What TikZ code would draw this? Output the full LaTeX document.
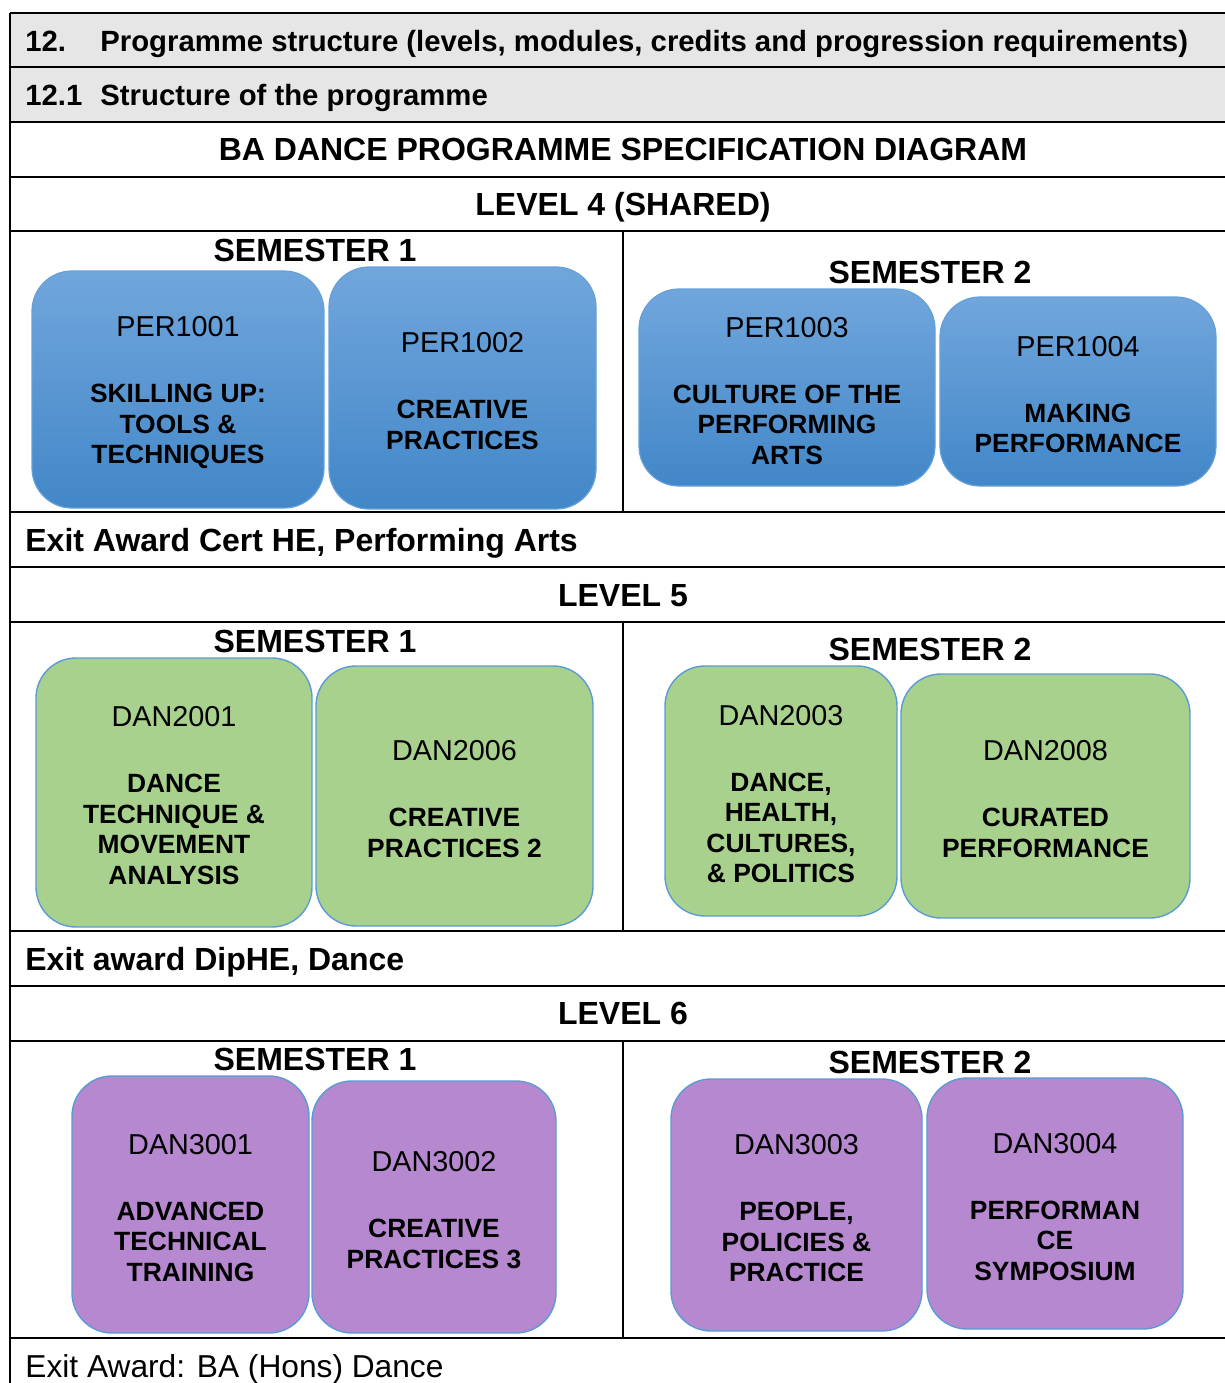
\documentclass[tikz,border=0pt]{standalone}
\usepackage{fontspec}
\setmainfont{Liberation Sans}
\definecolor{rowgrey}{RGB}{230,230,230}
\definecolor{pertop}{RGB}{113,166,220}
\definecolor{perbot}{RGB}{66,135,200}
\definecolor{perline}{RGB}{100,160,218}
\definecolor{dangreen}{RGB}{169,209,142}
\definecolor{danpurple}{RGB}{181,136,207}
\definecolor{danline}{RGB}{91,155,213}
\newcommand{\modcode}[1]{{\fontsize{14.4}{15.25}\selectfont\mdseries\rule{0pt}{13.3pt}#1}}

\begin{document}
\begin{tikzpicture}[x=0.5pt,y=-0.5pt,
                grid line/.style = {line width=1pt, color=black},
                head/.style = {anchor=base, inner sep=0pt, font=\fontsize{16}{19}\selectfont\bfseries},
                rowtext/.style = {anchor=base west, inner sep=0pt, font=\fontsize{14.65}{17}\selectfont\bfseries},
                exit/.style = {anchor=base west, inner sep=0pt, font=\fontsize{16}{19}\selectfont\bfseries},
                module/.style 2 args = {rounded corners=20pt, inner sep=0pt, align=center,
                                 minimum width=#1, minimum height=#2,
                                 font=\fontsize{13.2}{15.25}\selectfont\bfseries},
                per/.style 2 args = {module={#1}{#2}, top color=pertop, bottom color=perbot, draw=perline, line width=0.6pt},
                lvlfive/.style 2 args = {module={#1}{#2}, fill=dangreen, draw=danline, line width=0.7pt},
                lvlsix/.style 2 args = {module={#1}{#2}, fill=danpurple, draw=danline, line width=0.7pt}]
    \useasboundingbox (0,0) rectangle (1225,1383);
    % grey header rows
    \fill[rowgrey] (10,13) rectangle (1225,122);
    \node[rowtext] (n12) at (25,51) {12.};
    \node[rowtext] (progstruct) at (100,51) {Programme structure (levels, modules, credits and progression requirements)};
    \node[rowtext] (n121) at (25,105) {12.1};
    \node[rowtext] (structprog) at (100,105) {Structure of the programme};
    \node[head] (title) at (623,160.5) {BA DANCE PROGRAMME SPECIFICATION DIAGRAM};
    % level 4
    \node[head] (lvl4) at (623,215.5) {LEVEL 4 (SHARED)};
    \node[head] (l4s1) at (315,261.5) {SEMESTER 1};
    \node[head] (l4s2) at (930,283.5) {SEMESTER 2};
    \node[per={146pt}{118.5pt}] (per1001) at (178,389.5) {\modcode{PER1001}\\[17.75pt]SKILLING UP:\\TOOLS \&\\TECHNIQUES};
    \node[per={133.5pt}{121pt}] (per1002) at (462.5,388) {\modcode{PER1002}\\[17.75pt]CREATIVE\\PRACTICES};
    \node[per={148pt}{98.5pt}] (per1003) at (787,387.5) {\modcode{PER1003}\\[17.75pt]CULTURE OF THE\\PERFORMING\\ARTS};
    \node[per={138pt}{94.5pt}] (per1004) at (1078,391.5) {\modcode{PER1004}\\[17.75pt]MAKING\\PERFORMANCE};
    \node[exit] (exit4) at (25,551.5) {Exit Award Cert HE, Performing Arts};
    % level 5
    \node[head] (lvl5) at (623,606.5) {LEVEL 5};
    \node[head] (l5s1) at (315,652.5) {SEMESTER 1};
    \node[head] (l5s2) at (930,660.5) {SEMESTER 2};
    \node[lvlfive={138pt}{134.5pt}] (dan2001) at (174,792.5) {\modcode{DAN2001}\\[17.75pt]DANCE\\TECHNIQUE \&\\MOVEMENT\\ANALYSIS};
    \node[lvlfive={138.5pt}{130pt}] (dan2006) at (454.5,796) {\modcode{DAN2006}\\[17.75pt]CREATIVE\\PRACTICES 2};
    \node[lvlfive={116pt}{125pt}] (dan2003) at (781,791) {\modcode{DAN2003}\\[17.75pt]DANCE,\\HEALTH,\\CULTURES,\\\& POLITICS};
    \node[lvlfive={144.5pt}{122pt}] (dan2008) at (1045.5,796) {\modcode{DAN2008}\\[17.75pt]CURATED\\PERFORMANCE};
    \node[exit] (exit5) at (25,970.5) {Exit award DipHE, Dance};
    % level 6
    \node[head] (lvl6) at (623,1024.5) {LEVEL 6};
    \node[head] (l6s1) at (315,1070.5) {SEMESTER 1};
    \node[head] (l6s2) at (930,1073.5) {SEMESTER 2};
    \node[lvlsix={118.5pt}{128.5pt}] (dan3001) at (190.5,1204.5) {\modcode{DAN3001}\\[17.75pt]ADVANCED\\TECHNICAL\\TRAINING};
    \node[lvlsix={122pt}{126pt}] (dan3002) at (434,1207) {\modcode{DAN3002}\\[17.75pt]CREATIVE\\PRACTICES 3};
    \node[lvlsix={125.5pt}{126pt}] (dan3003) at (796.5,1205) {\modcode{DAN3003}\\[17.75pt]PEOPLE,\\POLICIES \&\\PRACTICE};
    \node[lvlsix={128pt}{125.5pt}] (dan3004) at (1055,1203.5) {\modcode{DAN3004}\\[17.75pt]PERFORMAN\\CE\\SYMPOSIUM};
    \node[exit, font=\fontsize{15.85}{19}\selectfont] (exit6) at (25,1377.5) {Exit Award: BA (Hons) Dance};
    % table rules
    \foreach \y in {13,67,122,177,231,512,567,622,931,986,1041,1338}
        \draw[grid line] (10,\y) -- (1225,\y);
    \draw[grid line] (10,13) -- (10,1383);
    \foreach \a/\b in {231/512, 622/931, 1041/1338}
        \draw[grid line] (623,\a) -- (623,\b);
\end{tikzpicture}
\end{document}
